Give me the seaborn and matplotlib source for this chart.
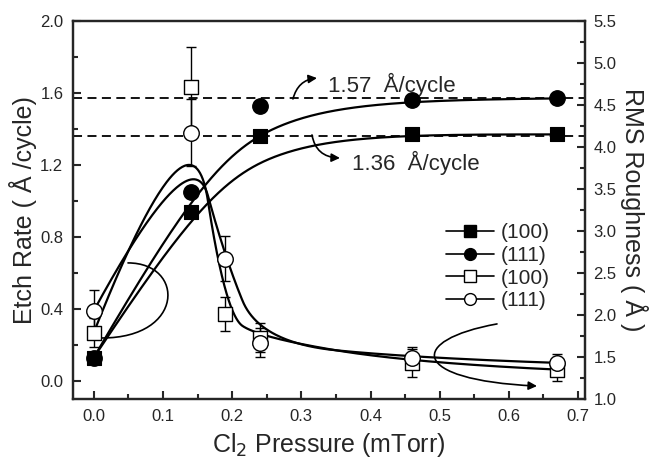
import numpy as np
import matplotlib
matplotlib.use("Agg")
import matplotlib.pyplot as plt
from matplotlib.path import Path
from matplotlib.patches import FancyArrowPatch
from matplotlib.lines import Line2D
from matplotlib.ticker import MultipleLocator
import seaborn as sns

# ---- data ----
x_etch = [0.0, 0.14, 0.24, 0.46, 0.67]
etch_100 = [0.13, 0.94, 1.36, 1.37, 1.37]
etch_111 = [0.13, 1.05, 1.53, 1.56, 1.57]

x_rms = [0.0, 0.14, 0.19, 0.24, 0.46, 0.67]
rms_100 = [1.79, 4.71, 2.01, 1.73, 1.43, 1.35]
rms_100_err = [0.17, 0.48, 0.20, 0.17, 0.17, 0.13]
rms_111 = [2.05, 4.17, 2.67, 1.67, 1.49, 1.43]
rms_111_err = [0.25, 0.40, 0.27, 0.17, 0.13, 0.11]

sat_levels = [1.57, 1.36]
sat_labels = ["1.57  Å/cycle", "1.36  Å/cycle"]
legend_labels = ["(100)", "(111)", "(100)", "(111)"]
x_ticks = [0.0, 0.1, 0.2, 0.3, 0.4, 0.5, 0.6, 0.7]
left_ticks = [0.0, 0.4, 0.8, 1.2, 1.6, 2.0]
right_ticks = [1.0, 1.5, 2.0, 2.5, 3.0, 3.5, 4.0, 4.5, 5.0, 5.5]


def bspline(px, py, n=500, k=2):
    """Clamped B-spline using the data points as control points (Origin-style)."""
    px = np.asarray(px, float)
    py = np.asarray(py, float)
    m = len(px)
    k = min(k, m - 1)
    inner = np.linspace(0, 1, m - k + 1)
    knots = np.concatenate([np.zeros(k), inner, np.ones(k)])
    t = np.linspace(0, 1, n)
    t[-1] -= 1e-9
    N = np.zeros((n, len(knots) - 1))
    for i in range(len(knots) - 1):
        N[:, i] = (knots[i] <= t) & (t < knots[i + 1])
    for d in range(1, k + 1):
        Nn = np.zeros((n, len(knots) - 1 - d))
        for i in range(len(knots) - 1 - d):
            a = knots[i + d] - knots[i]
            b = knots[i + d + 1] - knots[i + 1]
            term = np.zeros(n)
            if a > 0:
                term += (t - knots[i]) / a * N[:, i]
            if b > 0:
                term += (knots[i + d + 1] - t) / b * N[:, i + 1]
            Nn[:, i] = term
        N = Nn
    return N @ px, N @ py


sns.set_theme(style="ticks")
plt.rcParams["font.family"] = ["Liberation Sans", "DejaVu Sans"]
plt.rcParams["axes.linewidth"] = 1.6

fig = plt.figure(figsize=(6.59, 4.61), dpi=100)
ax = fig.add_axes([73 / 659, 1 - 399 / 461, 512 / 659, 378 / 461])
ax2 = ax.twinx()

# saturation dashed lines
for lvl in sat_levels:
    ax.axhline(lvl, color="black", lw=1.3, ls=(0, (5, 3)), zorder=2)

# smoothed (B-spline) curves through the data
for xs, ys in [(x_etch, etch_100), (x_etch, etch_111)]:
    bx, by = bspline(xs, ys, k=3)
    sns.lineplot(x=bx, y=by, ax=ax, color="black", lw=1.6, sort=False,
                 estimator=None, zorder=3)
for ys in [rms_100, rms_111]:
    bx, by = bspline(x_rms, ys, k=2)
    sns.lineplot(x=bx, y=by, ax=ax2, color="black", lw=1.6, sort=False,
                 estimator=None, zorder=3)

# etch-rate markers
sns.scatterplot(x=x_etch, y=etch_100, ax=ax, marker="s", s=100, color="black",
                edgecolor="black", zorder=5)
sns.scatterplot(x=x_etch, y=etch_111, ax=ax, marker="o", s=125, color="black",
                edgecolor="black", zorder=5)

# roughness markers with error bars
ax2.errorbar(x_rms, rms_100, yerr=rms_100_err, fmt="none", ecolor="black",
             elinewidth=1.0, capsize=3.5, capthick=1.0, zorder=4)
ax2.errorbar(x_rms, rms_111, yerr=rms_111_err, fmt="none", ecolor="black",
             elinewidth=1.0, capsize=3.5, capthick=1.0, zorder=4)
sns.scatterplot(x=x_rms, y=rms_100, ax=ax2, marker="s", s=100, color="white",
                edgecolor="black", linewidth=1.0, zorder=6)
sns.scatterplot(x=x_rms, y=rms_111, ax=ax2, marker="o", s=125, color="white",
                edgecolor="black", linewidth=1.0, zorder=6)

# axes limits / ticks
ax.set_xlim(-0.03, 0.71)
ax.set_ylim(-0.1, 2.0)
ax2.set_ylim(1.0, 5.5)
ax.set_xticks(x_ticks)
ax.set_xticklabels([f"{v:.1f}" for v in x_ticks])
ax.set_yticks(left_ticks)
ax.set_yticklabels([f"{v:.1f}" for v in left_ticks])
ax2.set_yticks(right_ticks)
ax2.set_yticklabels([f"{v:.1f}" for v in right_ticks])
ax.xaxis.set_minor_locator(MultipleLocator(0.05))
ax.yaxis.set_minor_locator(MultipleLocator(0.2))
ax2.yaxis.set_minor_locator(MultipleLocator(0.25))
ax.tick_params(axis="both", which="major", direction="in", length=6, width=1.5,
               labelsize=12, top=False, right=False, pad=7)
ax.tick_params(axis="both", which="minor", direction="in", length=3.5, width=1.5,
               top=False, right=False)
ax2.tick_params(axis="y", which="major", direction="in", length=6, width=1.5,
                labelsize=12, pad=6)
ax2.tick_params(axis="y", which="minor", direction="in", length=3.5, width=1.5)
for a in (ax, ax2):
    for sp in a.spines.values():
        sp.set_visible(True)
        sp.set_linewidth(1.6)

ax.set_xlabel("Cl$_2$ Pressure (mTorr)", fontsize=18, labelpad=5)
ax.set_ylabel("Etch Rate ( Å /cycle)", fontsize=18, labelpad=2)
ax2.set_ylabel("RMS Roughness ( Å )", fontsize=18, rotation=270, labelpad=23)

# annotations
ax.text(0.3385, 1.644, sat_labels[0], fontsize=16, va="center", ha="left")
ax.text(0.3732, 1.211, sat_labels[1], fontsize=16, va="center", ha="left")


def curve_arrow(pts, head=True):
    codes = [Path.MOVETO] + [Path.CURVE4] * (len(pts) - 1)
    if len(pts) == 3:
        codes = [Path.MOVETO, Path.CURVE3, Path.CURVE3]
    p = Path(ax.transData.transform(pts), codes)
    arr = FancyArrowPatch(path=p, transform=None,
                          arrowstyle="-|>,head_length=5,head_width=2.5" if head else "-",
                          color="black", lw=1.2, zorder=7)
    fig.add_artist(arr)


fig.canvas.draw()
curve_arrow([(0.2879, 1.567), (0.2951, 1.672), (0.3226, 1.683)])
curve_arrow([(0.3154, 1.367), (0.3211, 1.244), (0.3558, 1.239)])
curve_arrow([(0.0495, 0.656), (0.1318, 0.656), (0.1318, 0.239), (0.0119, 0.239)], head=False)
curve_arrow([(0.5828, 0.317), (0.4542, 0.228), (0.4542, 0.0056), (0.6406, -0.028)])

# legend
handles = [
    Line2D([], [], color="black", lw=1.2, marker="s", markersize=8,
           markerfacecolor="black", markeredgecolor="black"),
    Line2D([], [], color="black", lw=1.2, marker="o", markersize=8.5,
           markerfacecolor="black", markeredgecolor="black"),
    Line2D([], [], color="black", lw=1.2, marker="s", markersize=8,
           markerfacecolor="white", markeredgecolor="black"),
    Line2D([], [], color="black", lw=1.2, marker="o", markersize=8.5,
           markerfacecolor="white", markeredgecolor="black"),
]
ax2.legend(handles, legend_labels, loc="upper left", bbox_to_anchor=(0.729, 0.465),
           frameon=False, fontsize=15, handlelength=2.3, handletextpad=0.33,
           labelspacing=0.18, borderpad=0, borderaxespad=0)

fig.savefig("out.png", dpi=100, facecolor="white")
